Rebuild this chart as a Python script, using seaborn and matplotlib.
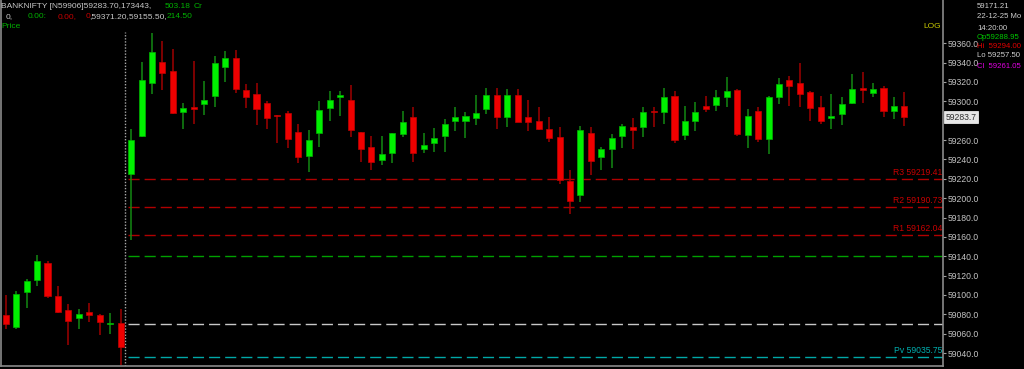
import matplotlib
matplotlib.use("Agg")
import matplotlib.pyplot as plt
import seaborn as sns
import numpy as np
import pandas as pd

# ---------------- data ----------------
opens = [59079, 59067, 59103, 59115, 59133, 59099, 59084, 59076, 59082, 59079, 59069.5, 59071,
         59225, 59264, 59319, 59341, 59331, 59289, 59293.5, 59297, 59306, 59336, 59345, 59312,
         59308, 59298, 59285.5, 59288, 59268, 59244, 59267, 59293, 59305, 59301, 59268, 59253,
         59239, 59247, 59266, 59284, 59250.5, 59257, 59264, 59280, 59280, 59283, 59292, 59307,
         59284, 59307, 59283.5, 59280, 59271.5, 59263.5, 59218, 59203, 59267.5, 59243, 59251,
         59264.5, 59273.5, 59273, 59290.4, 59289, 59306, 59265, 59280, 59295.5, 59296, 59304,
         59312, 59265, 59290, 59261.4, 59304, 59322, 59319, 59310, 59294, 59283, 59287, 59298.6,
         59313.8, 59308.7, 59314, 59290, 59295]
highs = [59100, 59104, 59116, 59141, 59135, 59109, 59091, 59086, 59092, 59080, 59081, 59085,
         59271, 59341, 59371, 59362, 59354, 59298, 59342, 59321, 59347, 59352, 59353, 59318,
         59319, 59300, 59286, 59290, 59277, 59270, 59300, 59311, 59311, 59317, 59268.5, 59264,
         59264, 59267.5, 59290, 59294, 59267, 59272, 59282, 59294, 59289, 59307, 59314, 59314,
         59313, 59313, 59301, 59294, 59283.5, 59273, 59229, 59275, 59273, 59253, 59266,
         59277, 59282.5, 59294.5, 59294, 59313.5, 59311, 59295, 59299, 59305.6, 59312, 59325.5,
         59313, 59292, 59294.5, 59306, 59324.5, 59326.5, 59340, 59310.5, 59305.6, 59307.6, 59304, 59328,
         59330.7, 59319.3, 59316, 59304, 59310]
lows = [59065, 59065, 59087, 59109, 59097, 59081, 59048, 59065, 59072, 59059, 59060, 59028,
        59157, 59263, 59308, 59312, 59287, 59271, 59277, 59286, 59294, 59320, 59309, 59293,
        59276, 59271, 59257, 59252, 59236, 59227, 59253, 59280, 59285, 59263, 59237, 59229,
        59234, 59236, 59263, 59237, 59247, 59248, 59248, 59269, 59262, 59276, 59287, 59271,
        59273, 59279, 59269, 59270, 59258, 59215, 59184, 59196, 59224, 59229, 59231.5,
        59251.5, 59251, 59263, 59273, 59277, 59257, 59260, 59269, 59288.7, 59290, 59294.5,
        59264.5, 59251.5, 59258, 59246, 59297, 59295.5, 59294.5, 59280, 59277, 59271, 59276, 59297,
        59298, 59304.8, 59284, 59281.5, 59275]
closes = [59070, 59101, 59114, 59135, 59099, 59082, 59073, 59080, 59079, 59072, 59070.5, 59046,
          59260, 59322, 59351, 59329, 59288, 59293, 59292.5, 59301, 59340, 59345, 59313, 59305,
          59292, 59283, 59284.5, 59261, 59243, 59260, 59291, 59301, 59307, 59270, 59251, 59237,
          59246, 59267, 59279, 59247, 59254.5, 59262, 59277, 59284, 59285, 59288, 59307, 59284,
          59307, 59279, 59278.5, 59271.5, 59262.5, 59219, 59197, 59270, 59238, 59250.5, 59262,
          59275, 59270.7, 59289, 59288.7, 59304, 59260, 59279.4, 59289, 59292, 59304, 59311,
          59266, 59285, 59261.4, 59305, 59318, 59316, 59308, 59293.5, 59280, 59284.6, 59297, 59312.5,
          59312, 59312.8, 59290.4, 59295, 59283.7]

level_names = ["R3", "R2", "R1", "Pv"]
level_values = [59219.41, 59190.73, 59162.04, 59035.75]
extra_levels = [59140.0, 59070.0]
yticks = [59360, 59340, 59320, 59300, 59260, 59240, 59220, 59200, 59180, 59160,
          59140, 59120, 59100, 59080, 59060, 59040]
last_price = 59283.7

df = pd.DataFrame({"open": opens, "high": highs, "low": lows, "close": closes})
df["idx"] = np.arange(len(df))
df["up"] = df["close"] >= df["open"]
df["body_bot"] = df[["open", "close"]].min(axis=1)
df["body_h"] = (df["close"] - df["open"]).abs().clip(lower=1.6)

# ---------------- style ----------------
sns.set_theme(style="dark", rc={
    "figure.facecolor": "black", "axes.facecolor": "black",
    "axes.edgecolor": "#8a8a8a", "axes.grid": False,
})
plt.rcParams["font.family"] = ["Liberation Sans", "DejaVu Sans"]

W, H = 1024, 369
fig = plt.figure(figsize=(W / 100, H / 100), dpi=100, facecolor="black")
ax = fig.add_axes([1 / W, 3 / H, 942 / W, 366 / H])
ax.set_facecolor("black")

x0, dx = 5.7, 10.45
ax.set_xlim((1 - x0) / dx, (943 - x0) / dx)
ax.set_ylim(59026.6, 59404.7)

GREEN, RED = "#00f000", "#f00000"
GWICK, RWICK = "#138a13", "#a00000"

# wicks
for up, sub in df.groupby("up"):
    ax.vlines(sub["idx"], sub["low"], sub["high"], color=GWICK if up else RWICK, lw=1.1, zorder=2)
# bodies
for up, sub in df.groupby("up"):
    ax.bar(sub["idx"], sub["body_h"], bottom=sub["body_bot"], width=0.58,
           color=GREEN if up else RED, edgecolor="#00b400" if up else "#c00000",
           linewidth=0.5, zorder=3)

# level lines
xs = 11.75
xr = ax.get_xlim()[1]
lvl_colors = ["#b00000", "#b00000", "#b00000", "#00a8a8"]
for v, c in zip(level_values, lvl_colors):
    ax.hlines(v, xs, xr, color=c, lw=1.0, linestyles=(0, (8, 3.6)), zorder=1)
ax.hlines(extra_levels[0], xs, xr, color="#00a000", lw=1.0, linestyles=(0, (8, 3.6)), zorder=1)
ax.hlines(extra_levels[1], xs, xr, color="#c8c8c8", lw=1.0, linestyles=(0, (8, 3.6)), zorder=1)

# session separator
ax.axvline((125.3 - x0) / dx, ymax=(366 - 32) / 366, color="#a8a8a8", lw=1.0,
           linestyle=(0, (1, 1.2)), zorder=1)

# spines
ax.spines["top"].set_visible(False)
for s in ["left", "bottom", "right"]:
    ax.spines[s].set_color("#8a8a8a")
    ax.spines[s].set_linewidth(1.2)
ax.set_xticks([])
ax.yaxis.tick_right()
ax.set_yticks(yticks)
ax.set_yticklabels([f"{t:.1f}" for t in yticks])
ax.tick_params(axis="y", which="both", direction="out", length=2.5, width=0.8, color="#a0a0a0",
               labelcolor="#c4c4c4", labelsize=6.2, pad=1)
ax.set_xlabel("")
ax.set_ylabel("")

# level labels
lbl_colors = ["#c80000", "#c80000", "#c80000", "#00b0b0"]
for n, v, c in zip(level_names, level_values, lbl_colors):
    ax.text(xr - 0.1, v + 2.0, f"{n} {v:.2f}", color=c, fontsize=6.2, ha="right", va="bottom",
            zorder=5)

# last price tag
ax.text(xr + 0.25, last_price, f"{last_price:.1f}", color="#303030", fontsize=6.2, ha="left",
        va="center", transform=ax.transData, clip_on=False,
        bbox=dict(boxstyle="square,pad=0.2", fc="#e6e6e6", ec="#ffffff", lw=0.5), zorder=6)


def ft(x, y, s, c, size=6.2, ha="left"):
    fig.text(x / W, 1 - y / H, s, color=c, fontsize=size, ha=ha, va="center")


GR = "#c8c8c8"
GN = "#00b000"
RD = "#c80000"
# header
ft(1, 6, "BANKNIFTY [N59906]59283.70,173443,", GR, 6.0)
ft(165, 6, "503.18", GN, 6.0)
ft(194, 6, "Cr", GN, 6.0)
ft(6, 16.5, "0,", GR, 6.0)
ft(28, 16.5, "0.00:", GN, 6.0)
ft(58, 16.5, "0.00,", RD, 6.0)
ft(86, 16.5, "0", RD, 6.0)
ft(89.5, 16.5, ",59371.20,59155.50,", GR, 6.0)
ft(167, 16.5, "214.50", GN, 6.0)
ft(1, 27, "Price", GN, 6.0)
ft(941, 27, "LOG", "#c8c800", 6.0, ha="right")

# right info panel
ps = 5.6
ft(977, 7, "59171.21", "#d0d0d0", ps)
ft(977, 16.5, "22-12-25 Mo", "#d0d0d0", ps)
ft(977, 28, "14:20:00", "#d0d0d0", ps)
ft(977, 37.5, "Op59288.95", "#00c800", ps)
ft(977, 46.5, "Hi  59294.00", "#e00000", ps)
ft(977, 55.5, "Lo 59257.50", "#d0d0d0", ps)
ft(977, 66, "Cl  59261.05", "#e000e0", ps)

fig.savefig("out.png", dpi=100, facecolor="black")
